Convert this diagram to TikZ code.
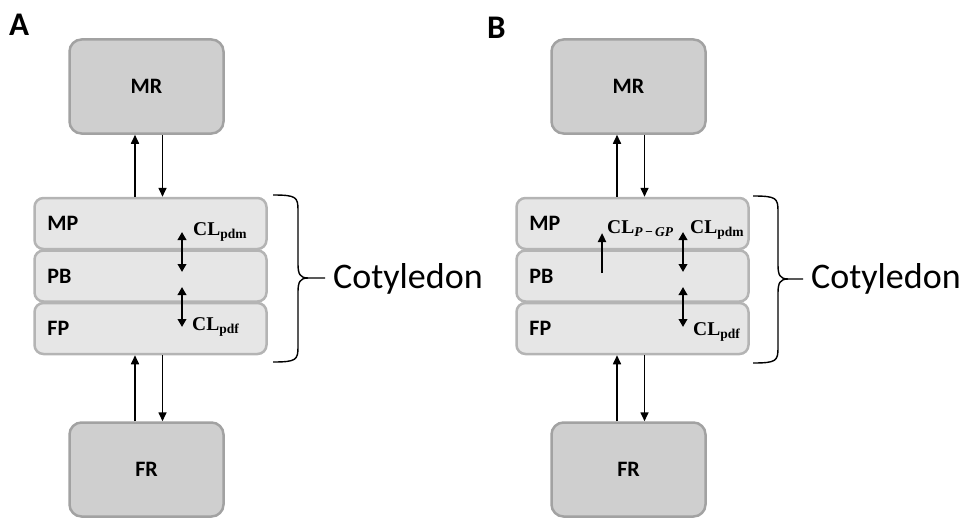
\documentclass[tikz,border=0pt]{standalone}
\usepackage{fontspec}
\setmainfont{Carlito}
\newfontfamily\clfont{Liberation Serif}
\usetikzlibrary{arrows.meta,positioning,calc}
\definecolor{cRes}{HTML}{CFCFCF}
\definecolor{cResEdge}{HTML}{A2A2A2}
\definecolor{cLay}{HTML}{E6E6E6}
\definecolor{cLayEdge}{HTML}{B4B4B4}
\newcommand{\clsub}[1]{{\clfont\bfseries\fontsize{19.5}{22}\selectfont CL\raisebox{-3.5pt}{\fontsize{13.5}{14}\selectfont #1}}}

\begin{document}
\begin{tikzpicture}[
    x=1pt, y=-1pt,
    res/.style={rectangle, draw=cResEdge, fill=cRes, line width=2.5pt, rounded corners=12pt, minimum width=154pt, minimum height=94pt, font=\bfseries\fontsize{22}{26}\selectfont},
    lay/.style={rectangle, draw=cLayEdge, fill=cLay, line width=2.5pt, rounded corners=9pt, minimum width=232pt, minimum height=51pt},
    lbl/.style={font=\bfseries\fontsize{22}{26}\selectfont, inner sep=0pt, anchor=west},
    cl/.style={inner sep=0pt, anchor=base west},
    arr/.style={arrows={-Triangle[length=9pt,width=8pt]}, line width=1.6pt},
    darr/.style={arrows={Triangle[length=8pt,width=8.5pt]-Triangle[length=8pt,width=8.5pt]}, line width=2.6pt},
    brc/.style={line width=1.4pt},
    cot/.style={font=\fontsize{36}{40}\selectfont, inner sep=0pt, anchor=west},
    panel/.style={font=\bfseries\fontsize{33}{36}\selectfont, inner sep=0pt, anchor=base west}
]
\useasboundingbox (0,0) rectangle (960,519);

\node[panel] (pA) at (9,36) {A};
\node[panel] (pB) at (487,38) {B};

% panel A
\node[res] (MRa) at (146.5,86.5) {MR};
\node[lay] (MPa) at (150.5,223.5) {};
\node[lay, below=-1pt of MPa] (PBa) {};
\node[lay, below=-1pt of PBa] (FPa) {};
\node[res] (FRa) at (146.5,469.5) {FR};

% panel B
\node[res] (MRb) at (628.5,86.5) {MR};
\node[lay] (MPb) at (632.5,223.5) {};
\node[lay, below=-1pt of MPb] (PBb) {};
\node[lay, below=-1pt of PBb] (FPb) {};
\node[res] (FRb) at (628.5,469.5) {FR};

\foreach \p in {a,b} {
  \foreach \l in {MP,PB,FP} {
    \node[lbl] (t\l\p) at ([xshift=14pt]\l\p.west) {\l};
  }
  \coordinate (up\p) at ($(MR\p.south)+(-11.5,0)$);
  \coordinate (dn\p) at ($(MR\p.south)+(16,0)$);
  \draw[arr] (up\p |- MP\p.north) -- (up\p);
  \draw[arr] (dn\p) -- (dn\p |- MP\p.north);
  \draw[arr] (up\p |- FR\p.north) -- (up\p |- FP\p.south);
  \draw[arr] (dn\p |- FP\p.south) -- (dn\p |- FR\p.north);
}

% clearance labels
\node[cl] (clpdma) at (193,235) {\clsub{pdm}};
\node[cl] (clpdfa) at (192,330) {\clsub{pdf}};
\node[cl] (clpgpb) at (607,233) {\clsub{\itshape P\,−\,GP}};
\node[cl] (clpdmb) at (690,233) {\clsub{pdm}};
\node[cl] (clpdfb) at (693,335) {\clsub{pdf}};

\coordinate (pdma1) at (182,232); \coordinate (pdma2) at (182,272);
\coordinate (pdfa1) at (182,287); \coordinate (pdfa2) at (182,327);
\coordinate (pdmb1) at (683,232); \coordinate (pdmb2) at (683,272);
\coordinate (pdfb1) at (683,287); \coordinate (pdfb2) at (683,327);
\coordinate (pgpb1) at (602,273); \coordinate (pgpb2) at (602,233);
\draw[darr] (pdma1) -- (pdma2);
\draw[darr] (pdfa1) -- (pdfa2);
\draw[darr] (pdmb1) -- (pdmb2);
\draw[darr] (pdfb1) -- (pdfb2);
\draw[arr, line width=2.2pt] (pgpb1) -- (pgpb2);

% cotyledon braces
\node[cot] (cota) at (333,279) {Cotyledon};
\node[cot] (cotb) at (811,279) {Cotyledon};
\draw[brc] (273,195) .. controls (296,195) and (298,197) .. (298,210) -- (298,264) .. controls (298,274) and (300,278) .. (308,278) -- (325,278);
\draw[brc] (273,362) .. controls (296,362) and (298,360) .. (298,347) -- (298,292) .. controls (298,282) and (300,278) .. (308,278);
\draw[brc] (753,196) .. controls (776,196) and (778,198) .. (778,211) -- (778,265) .. controls (778,275) and (780,279) .. (788,279) -- (803,279);
\draw[brc] (753,363) .. controls (776,363) and (778,361) .. (778,348) -- (778,293) .. controls (778,283) and (780,279) .. (788,279);
\end{tikzpicture}
\end{document}
